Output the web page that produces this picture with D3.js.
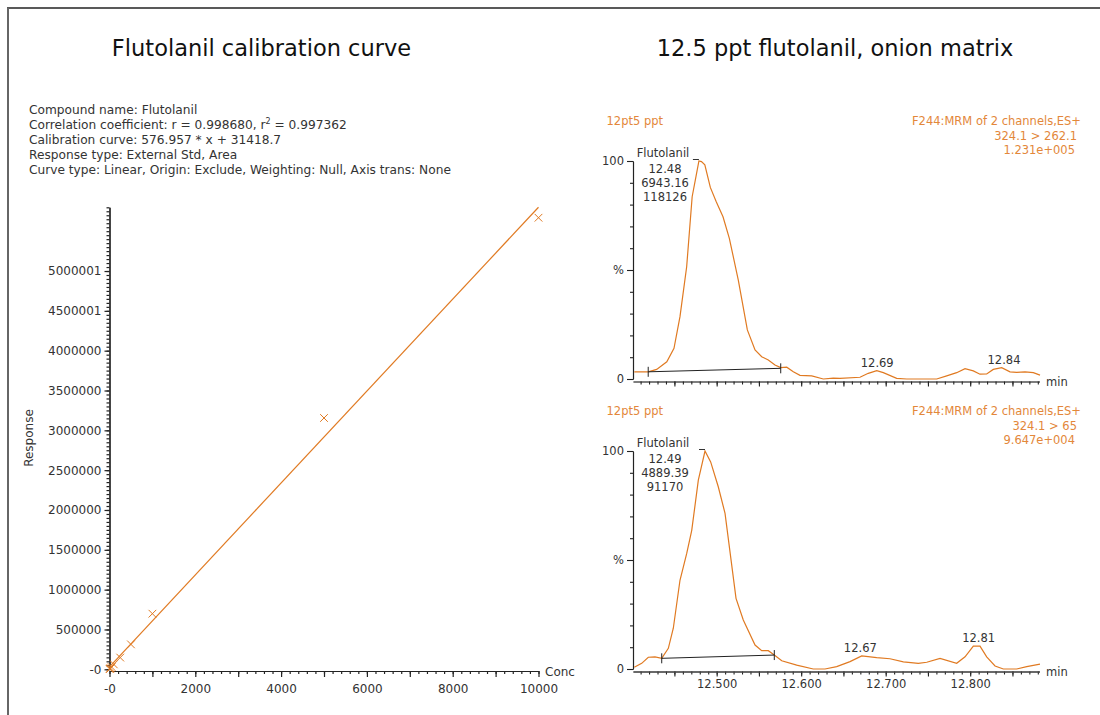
<!DOCTYPE html>
<html><head><meta charset="utf-8">
<script src="https://cdn.jsdelivr.net/npm/d3@7"></script>
<style>
html,body{margin:0;padding:0;background:#fff;}
svg{display:block;font-family:"DejaVu Sans",Verdana,sans-serif;}
</style></head>
<body><svg id="c" width="1100" height="715"></svg>
<script>
// ---------------- DATA ----------------
const leftTitle = "Flutolanil calibration curve";
const rightTitle = "12.5 ppt flutolanil, onion matrix";
const infoLines = [
  "Compound name: Flutolanil",
  "Correlation coefficient: r = 0.998680, r|2| = 0.997362",
  "Calibration curve: 576.957 * x + 31418.7",
  "Response type: External Std, Area",
  "Curve type: Linear, Origin: Exclude, Weighting: Null, Axis trans: None"
];
const calConc = [5, 12.5, 25, 50, 100, 250, 500, 1000, 5000, 10000];
const calResp = [3000, 7000, 14000, 28000, 62000, 147000, 313000, 698000, 3155000, 5669000];
const calSlope = 576.957, calIntercept = 31418.7;
const calYTicks = [0, 500000, 1000000, 1500000, 2000000, 2500000, 3000000, 3500000, 4000000, 4500000, 5000000];
const calYTickLabels = ["-0", "500000", "1000000", "1500000", "2000000", "2500000", "3000000", "3500000", "4000000", "4500001", "5000001"];
const calXTicks = [0, 2000, 4000, 6000, 8000, 10000];
const calXTickLabels = ["-0", "2000", "4000", "6000", "8000", "10000"];

const chromTime1 = [12.4025,12.419,12.429,12.441,12.4495,12.4566,12.4645,12.471,12.4755,12.479,12.482,12.486,12.4925,12.4995,12.5075,12.515,12.5256,12.5363,12.5454,12.5533,12.5611,12.569,12.5758,12.5829,12.5907,12.5986,12.6125,12.6262,12.638,12.6459,12.6696,12.6794,12.6894,12.6972,12.713,12.7249,12.7604,12.7722,12.784,12.7939,12.8037,12.8116,12.8195,12.8273,12.8373,12.8471,12.855,12.8649,12.8747,12.8826];
const chromInt1 = [3.3,3.3,4.4,7.9,14.1,28.6,51.5,83.6,92.8,100,99.7,98.2,87.9,81.3,74.4,64.5,45.4,22.5,13.3,10.2,8.7,6.4,5.2,5.4,3.3,1.7,1.4,0,0.4,0.3,0.8,2.6,3.8,2.9,0.3,0,0,1.4,2.9,4.7,3.7,2.2,2.3,4.4,5.2,3.3,3.0,3.3,2.9,1.8];
const chromTime2 = [12.4025,12.4113,12.4191,12.427,12.435,12.4428,12.4487,12.4566,12.4645,12.4705,12.4783,12.4862,12.4929,12.5019,12.5099,12.5229,12.5315,12.5454,12.5533,12.5611,12.5682,12.577,12.5947,12.6143,12.6282,12.642,12.6578,12.6716,12.6894,12.7051,12.7209,12.7386,12.7486,12.7643,12.784,12.7939,12.8037,12.8116,12.8195,12.8294,12.8392,12.855,12.8669,12.8826];
const chromInt2 = [0.8,2.6,5.4,5.6,4.9,9.5,18.7,40.7,52.9,63.6,86.6,100,95,83.6,71.4,32.4,22.5,11.0,8.4,8.4,6.4,3.8,1.8,0,0,1.1,3.4,6.0,5.2,4.7,3.3,2.6,3.1,4.9,2.6,5.6,10.5,10.5,5.6,1.4,0,0,1.1,2.2];

const panelNames = ["12pt5 ppt", "12pt5 ppt"];
const panelFunc = ["F244:MRM of 2 channels,ES+", "F244:MRM of 2 channels,ES+"];
const panelTrans = ["324.1 > 262.1", "324.1 > 65"];
const panelMax = ["1.231e+005", "9.647e+004"];
const peakNames = ["Flutolanil", "Flutolanil"];
const peakRT = ["12.48", "12.49"];
const peakHeight = ["6943.16", "4889.39"];
const peakArea = ["118126", "91170"];
const baseStart1 = [12.419, 3.3], baseEnd1 = [12.5758, 4.9];
const baseStart2 = [12.435, 4.9], baseEnd2 = [12.5682, 6.4];
const minorPeaks1 = [[12.69, "12.69"], [12.84, "12.84"]];
const minorPeaks2 = [[12.67, "12.67"], [12.81, "12.81"]];
const timeTicksMajor = [12.5, 12.6, 12.7, 12.8];
const timeTickLabels = ["12.500", "12.600", "12.700", "12.800"];

// ---------------- DRAW ----------------
const svg = d3.select("#c");
const ORANGE = "#e07a22", TEXTOR = "#e3873a", TXT = "#333";

// frame
svg.append("line").attr("x1", 7).attr("x2", 1100).attr("y1", 8).attr("y2", 8).attr("stroke", "#222").attr("stroke-width", 1.5);
svg.append("line").attr("x1", 8).attr("x2", 8).attr("y1", 8).attr("y2", 715).attr("stroke", "#666").attr("stroke-width", 2);

// titles
svg.append("text").attr("x", 261.5).attr("y", 56).attr("text-anchor", "middle").attr("font-size", 22.5).attr("fill", "#111").text(leftTitle);
svg.append("text").attr("x", 835).attr("y", 56).attr("text-anchor", "middle").attr("font-size", 22.5).attr("fill", "#111").text(rightTitle);

// info lines
infoLines.forEach((s, i) => {
  const t = svg.append("text").attr("x", 29).attr("y", 114 + i * 15).attr("font-size", 12.2).attr("fill", TXT);
  const parts = s.split("|");
  parts.forEach((p, j) => {
    if (j % 2 === 1) t.append("tspan").attr("font-size", 8).attr("dy", -5).text(p);
    else t.append("tspan").attr("dy", j > 0 ? 5 : 0).text(p);
  });
});

// calibration plot
const cx = d3.scaleLinear().domain([0, 10000]).range([109.5, 538.5]);
const cy = d3.scaleLinear().domain([0, 5800000]).range([669.3, 207.3]);

const gy = svg.append("g").attr("transform", "translate(109.5,0)");
gy.call(d3.axisLeft(cy).tickValues(calYTicks).tickFormat((d, i) => calYTickLabels[i]).tickSize(5).tickSizeOuter(0));
gy.append("g").call(d3.axisLeft(cy).tickValues(d3.range(0, 5800001, 50000)).tickFormat("").tickSize(3).tickSizeOuter(0));
const gx = svg.append("g").attr("transform", "translate(0,671)");
gx.call(d3.axisBottom(cx).tickValues(calXTicks).tickFormat((d, i) => calXTickLabels[i]).tickSize(6).tickSizeOuter(0));
gx.append("g").call(d3.axisBottom(cx).tickValues(d3.range(1000, 10000, 2000)).tickFormat("").tickSize(6).tickSizeOuter(0));
gx.append("g").call(d3.axisBottom(cx).tickValues(d3.range(0, 10001, 200)).tickFormat("").tickSize(3).tickSizeOuter(0));
[gy, gx].forEach(g => {
  g.selectAll("path,line").attr("stroke", "#222").attr("stroke-width", 1.2);
  g.selectAll("text").attr("font-size", 12).attr("fill", TXT).attr("font-family", "DejaVu Sans");
});
gx.selectAll("text").attr("dy", "1.05em");
svg.append("text").attr("x", 545).attr("y", 676).attr("font-size", 12).attr("fill", TXT).text("Conc");
svg.append("text").attr("transform", "translate(33,438) rotate(-90)").attr("text-anchor", "middle").attr("font-size", 12).attr("fill", TXT).text("Response");

// fitted line
svg.append("line")
  .attr("x1", cx(0)).attr("y1", cy(calIntercept))
  .attr("x2", cx(10000)).attr("y2", cy(calSlope * 10000 + calIntercept))
  .attr("stroke", ORANGE).attr("stroke-width", 1.2);
// points
const cross = d3.symbol().type(d3.symbolTimes).size(40);
svg.append("g").selectAll("path").data(calConc).join("path")
  .attr("transform", (d, i) => `translate(${cx(d)},${cy(calResp[i])})`)
  .attr("d", cross).attr("fill", "none").attr("stroke", ORANGE).attr("stroke-width", 1);

// chromatograms
const tx = d3.scaleLinear().domain([12.401, 12.882]).range([633, 1039.5]);
function chrom(off, times, ints, bs, be, minors, idx, showLabels) {
  const y = d3.scaleLinear().domain([0, 100]).range([379 + off, 161 + off]);
  const axY = 381.5 + off;
  // y axis
  const g = svg.append("g").attr("transform", "translate(633,0)");
  g.call(d3.axisLeft(y).tickValues([0, 50, 100]).tickFormat(d => d === 50 ? "%" : d).tickSize(6).tickSizeOuter(0));
  g.append("g").call(d3.axisLeft(y).tickValues(d3.range(10, 100, 10).filter(v => v !== 50)).tickFormat("").tickSize(3).tickSizeOuter(0));
  // x axis
  const h = svg.append("g").attr("transform", `translate(0,${axY})`);
  h.call(d3.axisBottom(tx).tickValues(d3.range(12.45, 12.88, 0.05)).tickFormat("").tickSize(5).tickSizeOuter(0));
  h.append("g").call(d3.axisBottom(tx).tickValues(d3.range(12.41, 12.882, 0.01)).tickFormat("").tickSize(3).tickSizeOuter(0));
  if (showLabels) {
    h.append("g").call(d3.axisBottom(tx).tickValues(timeTicksMajor).tickFormat((d, i) => timeTickLabels[i]).tickSize(0).tickSizeOuter(0))
      .selectAll("text").attr("dy", "1.15em");
  }
  [g, h].forEach(k => {
    k.selectAll("path,line").attr("stroke", "#222").attr("stroke-width", 1.1);
    k.selectAll("text").attr("font-size", 11.5).attr("fill", TXT).attr("font-family", "DejaVu Sans");
  });
  h.selectAll("path.domain").attr("stroke", "#555");
  svg.append("text").attr("x", 1046).attr("y", axY + 4).attr("font-size", 11.5).attr("fill", TXT).text("min");
  // trace
  const pts = times.map((t, i) => [t, ints[i]]);
  svg.append("path").datum(pts)
    .attr("d", d3.line().x(d => tx(d[0])).y(d => y(d[1])))
    .attr("fill", "none").attr("stroke", ORANGE).attr("stroke-width", 1.2);
  // integration baseline
  svg.append("line").attr("x1", tx(bs[0])).attr("y1", y(bs[1])).attr("x2", tx(be[0])).attr("y2", y(be[1]))
    .attr("stroke", "#222").attr("stroke-width", 1);
  [bs, be].forEach(p => svg.append("line").attr("x1", tx(p[0])).attr("x2", tx(p[0]))
    .attr("y1", y(p[1]) - 5).attr("y2", y(p[1]) + 5).attr("stroke", "#222").attr("stroke-width", 1));
  // apex marker
  const apexI = d3.maxIndex(ints);
  const ax = tx(times[apexI]), ay = y(ints[apexI]);
  svg.append("line").attr("x1", ax - 6).attr("x2", ax).attr("y1", ay - 1.5).attr("y2", ay - 1.5).attr("stroke", "#333").attr("stroke-width", 1);
  // peak label
  const lab = [peakNames[idx], peakRT[idx], peakHeight[idx], peakArea[idx]];
  const offs = [-4, 11.5, 25.5, 39.5];
  lab.forEach((s, i) => svg.append("text").attr("x", i === 0 ? 663 : 665).attr("y", y(100) + offs[i])
    .attr("text-anchor", "middle").attr("font-size", 11.5).attr("fill", TXT).text(s));
  // minor peak labels
  minors.forEach(m => {
    const near = d3.max(pts.filter(p => Math.abs(p[0] - m[0]) < 0.008), p => p[1]);
    svg.append("text").attr("x", tx(m[0])).attr("y", y(near) - 4).attr("text-anchor", "middle")
      .attr("font-size", 11.5).attr("fill", TXT).text(m[1]);
  });
  // header texts
  svg.append("text").attr("x", 606.5).attr("y", 125 + off).attr("font-size", 11.5).attr("fill", TEXTOR).text(panelNames[idx]);
  svg.append("text").attr("x", 1081).attr("y", 125 + off).attr("text-anchor", "end").attr("font-size", 11.5).attr("fill", TEXTOR).text(panelFunc[idx]);
  svg.append("text").attr("x", 1077).attr("y", 139.5 + off).attr("text-anchor", "end").attr("font-size", 11.5).attr("fill", TEXTOR).text(panelTrans[idx]);
  svg.append("text").attr("x", 1075).attr("y", 154 + off).attr("text-anchor", "end").attr("font-size", 11.5).attr("fill", TEXTOR).text(panelMax[idx]);
}
chrom(0, chromTime1, chromInt1, baseStart1, baseEnd1, minorPeaks1, 0, false);
chrom(290, chromTime2, chromInt2, baseStart2, baseEnd2, minorPeaks2, 1, true);
</script></body></html>
